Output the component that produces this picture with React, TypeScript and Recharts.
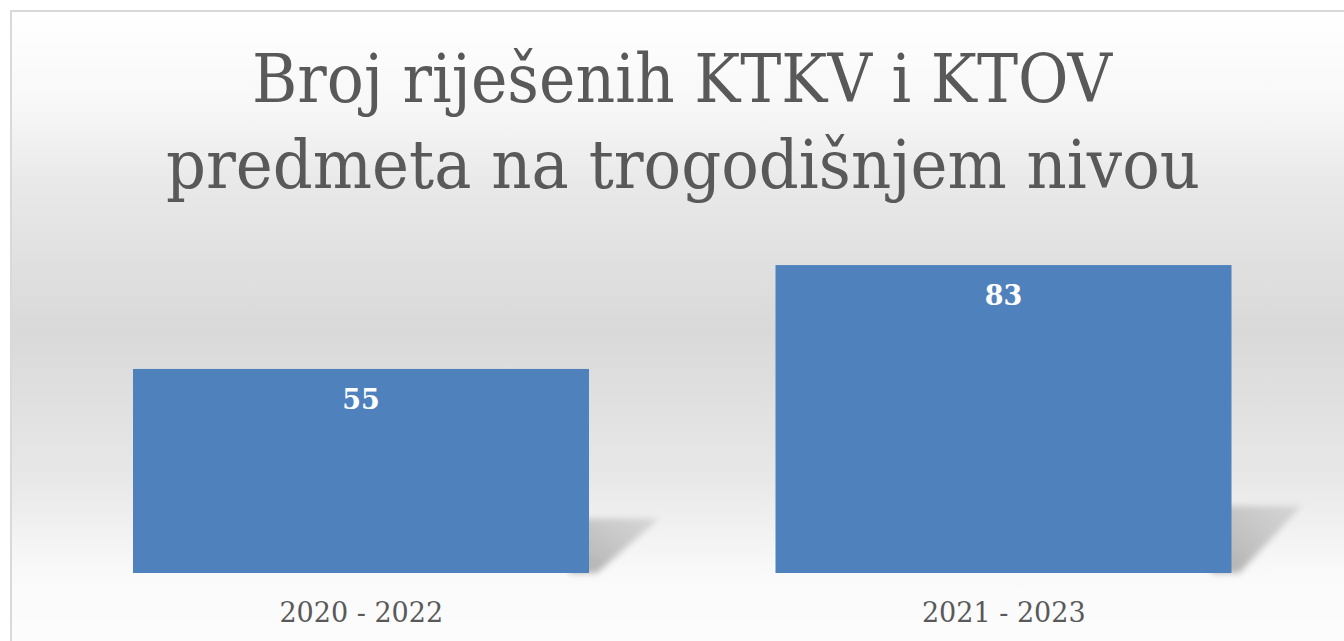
import React from "react";
import { BarChart, Bar, XAxis, YAxis, LabelList } from "recharts";

const periods = ["2020 - 2022", "2021 - 2023"];
const solved = [55, 83];
const titleLines = ["Broj riješenih KTKV i KTOV", "predmeta na trogodišnjem nivou"];

const data = periods.map((p, i) => ({ name: p, value: solved[i] }));

const FONT = "'DejaVu Serif', 'Liberation Serif', serif";
const BAR = "#4F81BD";
const TEXT = "#595959";

// bar with a soft perspective shadow behind its lower right corner
const ShadowBar = (props: any) => {
  const { x, y, width, height } = props;
  const bottom = y + height;
  const sh = 30 + height * 0.12;
  const r = x + width;
  const pts = `${r - 20},${bottom} ${r - 20},${bottom - sh} ${r + 70},${bottom - sh} ${r + 8},${bottom}`;
  return (
    <g>
      <polygon points={pts} fill="url(#shadowGrad)" filter="url(#shadowBlur)" />
      <rect x={x} y={y} width={width} height={height} fill={BAR} />
    </g>
  );
};

const ValueLabel = (props: any) => {
  const { x, y, width, value } = props;
  return (
    <text x={x + width / 2} y={y + 40} textAnchor="middle" fill="#ffffff"
      fontFamily={FONT} fontWeight="bold" fontSize={27}>
      {value}
    </text>
  );
};

const PeriodTick = (props: any) => {
  const { x, y, payload } = props;
  return (
    <text x={x} y={y + 49} textAnchor="middle" fill={TEXT} fontFamily={FONT} fontSize={27}>
      {payload.value}
    </text>
  );
};

export default function App() {
  return (
    <div style={{ position: "fixed", left: 0, top: 0, width: 1344, height: 641, overflow: "hidden", background: "#fff" }}>
      <div
        style={{
          position: "absolute",
          left: 10,
          top: 10,
          width: 1336,
          height: 650,
          border: "2px solid #d9d9d9",
          background:
            "linear-gradient(to bottom, #ffffff 0%, #f7f7f7 15%, #e9e9e9 26%, #d9d9d9 49%, #e8e8e8 72%, #f2f2f2 80%, #fafafa 87%, #fdfdfd 100%)",
        }}
      >
        <svg width={1336} height={200} style={{ position: "absolute", left: 0, top: 0 }}>
          <text x={670} y={90} textAnchor="middle" fill={TEXT} fontFamily={FONT} fontSize={68}
            textLength={860} lengthAdjust="spacingAndGlyphs">
            {titleLines[0]}
          </text>
          <text x={671} y={176} textAnchor="middle" fill={TEXT} fontFamily={FONT} fontSize={68}
            textLength={1034} lengthAdjust="spacingAndGlyphs">
            {titleLines[1]}
          </text>
        </svg>
        <div style={{ position: "absolute", left: 0, top: 0 }}>
          <BarChart width={1336} height={640} data={data}
            margin={{ top: 190, right: 23, left: 28, bottom: 19 }}>
            <defs>
              <linearGradient id="shadowGrad" x1="0" y1="1" x2="1" y2="0">
                <stop offset="0%" stopColor="#9a9a9a" stopOpacity={0.8} />
                <stop offset="100%" stopColor="#bdbdbd" stopOpacity={0.5} />
              </linearGradient>
              <filter id="shadowBlur" x="-20%" y="-20%" width="140%" height="140%">
                <feGaussianBlur stdDeviation="3" />
              </filter>
            </defs>
            <XAxis dataKey="name" axisLine={false} tickLine={false} tickSize={0} tickMargin={0}
              height={60} tick={<PeriodTick />} interval={0} />
            <YAxis hide domain={[0, 100]} />
            <Bar dataKey="value" barSize={456} shape={<ShadowBar />} isAnimationActive={false}>
              <LabelList dataKey="value" content={<ValueLabel />} />
            </Bar>
          </BarChart>
        </div>
      </div>
    </div>
  );
}
